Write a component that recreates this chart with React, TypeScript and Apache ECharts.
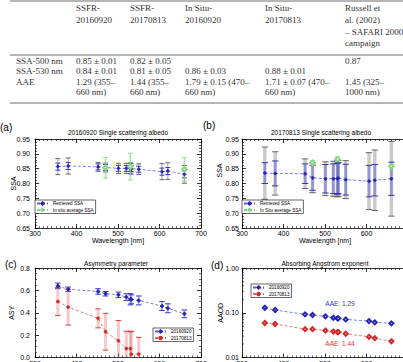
import { useEffect, useRef } from 'react';
import * as echarts from 'echarts';

const SANS = '"Liberation Sans", Arial, sans-serif';
const SERIF = '"Liberation Serif", "Times New Roman", serif';

// ---------- table ----------
const headerColumns: string[][] = [
  ['SSFR-', '20160920'],
  ['SSFR-', '20170813'],
  ['In Situ-', '20160920'],
  ['In Situ-', '20170813'],
  ['Russell et', 'al. (2002)', '– SAFARI 2000', 'campaign'],
];
const rowLabels = ['SSA-500 nm', 'SSA-530 nm', 'AAE', ''];
const cellColumns: string[][] = [
  ['0.85 ± 0.01', '0.84 ± 0.01', '1.29 (355–', '660 nm)'],
  ['0.82 ± 0.05', '0.81 ± 0.05', '1.44 (355–', '660 nm)'],
  ['', '0.86 ± 0.03', '1.79 ± 0.15 (470–', '660 nm)'],
  ['', '0.88 ± 0.01', '1.71 ± 0.07 (470–', '660 nm)'],
  ['0.87', '', '1.45 (325–', '1000 nm)'],
];

// ---------- panel data ----------
const wavelengths = [355, 380, 452, 470, 501, 520, 530, 532, 550, 606, 620, 660];
const insituWavelengths = [470, 530, 660];

// (a) 20160920 single scattering albedo
const ssa0920 = [0.857, 0.859, 0.856, 0.854, 0.851, 0.851, 0.851, 0.85, 0.848, 0.84, 0.842, 0.831];
const ssa0920ErrInner = [0.012, 0.012, 0.01, 0.01, 0.01, 0.01, 0.01, 0.01, 0.01, 0.012, 0.012, 0.012];
const ssa0920ErrOuter = [0.027, 0.027, 0.015, 0.015, 0.017, 0.017, 0.018, 0.018, 0.018, 0.027, 0.028, 0.03];
const insitu0920 = [0.853, 0.857, 0.848];
const insitu0920Err = [0.035, 0.045, 0.04];

// (b) 20170813 single scattering albedo
const ssa0813 = [0.835, 0.834, 0.833, 0.819, 0.816, 0.816, 0.816, 0.818, 0.813, 0.808, 0.811, 0.816];
const ssa0813ErrInner = [0.035, 0.042, 0.033, 0.042, 0.048, 0.05, 0.052, 0.052, 0.052, 0.053, 0.053, 0.056];
const ssa0813ErrOuter = [0.088, 0.073, 0.05, 0.05, 0.057, 0.059, 0.061, 0.061, 0.064, 0.096, 0.102, 0.126];
const insitu0813 = [0.87, 0.882, 0.858];
const insitu0813Err = [0.008, 0.008, 0.006];

// (c) asymmetry parameter
const asy0920 = [0.64, 0.61, 0.59, 0.57, 0.56, 0.54, 0.52, 0.52, 0.51, 0.46, 0.44, 0.39];
const asy0920Err = [0.025, 0.02, 0.025, 0.02, 0.025, 0.03, 0.05, 0.04, 0.04, 0.04, 0.04, 0.035];
const asy0813 = [0.5, 0.45, 0.35, 0.23, 0.15, 0.08, 0.08, 0.03, 0.03, null, null, null];
const asy0813Err = [0.125, 0.16, 0.085, 0.165, 0.18, 0.155, 0.155, 0.2, 0.15, null, null, null];

// (d) absorbing aerosol optical depth
const aaod0920 = [0.129, 0.115, 0.092, 0.089, 0.083, 0.077, 0.075, 0.075, 0.071, 0.065, 0.061, 0.058];
const aaod0813 = [0.059, 0.056, 0.043, 0.043, 0.04, 0.038, 0.037, 0.037, 0.034, 0.029, 0.027, 0.023];
const aaeLabels = ['AAE: 1.29', 'AAE: 1.44'];
const logMinorTicks = [0.02, 0.03, 0.04, 0.05, 0.06, 0.07, 0.08, 0.09, 0.2, 0.3, 0.4, 0.5, 0.6, 0.7, 0.8, 0.9];

const BLUE = '#2424b4';
const BLUE_LINE = '#5c5cd6';
const RED = '#d42a2a';
const RED_LINE = '#e06060';
const GREEN = '#86d886';

const pairs = (xs: number[], ys: (number | null)[]) =>
  xs.map((x, i) => [x, ys[i]]).filter((p) => p[1] != null);

function errorBars(
  gi: number,
  xs: number[],
  ys: (number | null)[],
  errs: (number | null)[],
  barColor: string,
  capColor: string,
  barWidth: number,
  capHalf: number
) {
  const data = xs
    .map((x, i) => (ys[i] == null ? null : [x, (ys[i] as number) - (errs[i] as number), (ys[i] as number) + (errs[i] as number)]))
    .filter(Boolean);
  return {
    type: 'custom',
    xAxisIndex: gi * 2,
    yAxisIndex: gi * 2,
    clip: true,
    silent: true,
    z: 1,
    data,
    encode: { x: 0, y: [1, 2] },
    renderItem: (_p: any, api: any) => {
      const x = api.value(0);
      const t = api.coord([x, api.value(2)]);
      const b = api.coord([x, api.value(1)]);
      return {
        type: 'group',
        children: [
          { type: 'line', shape: { x1: t[0], y1: t[1], x2: b[0], y2: b[1] }, style: { stroke: barColor, lineWidth: barWidth } },
          { type: 'line', shape: { x1: t[0] - capHalf, y1: t[1], x2: t[0] + capHalf, y2: t[1] }, style: { stroke: capColor, lineWidth: 0.9 } },
          { type: 'line', shape: { x1: b[0] - capHalf, y1: b[1], x2: b[0] + capHalf, y2: b[1] }, style: { stroke: capColor, lineWidth: 0.9 } },
        ],
      };
    },
  };
}

const axisLine = { show: true, onZero: false, lineStyle: { color: '#000', width: 0.8 } };
const axisTick = { show: true, inside: true, length: 4, lineStyle: { color: '#000', width: 0.8 } };

function xAxes(gi: number, withName: boolean, showMax: boolean) {
  const common = {
    type: 'value',
    gridIndex: gi,
    min: 300,
    max: 700,
    interval: 100,
    axisLine,
    axisTick,
    minorTick: { show: true, splitNumber: 10, length: 2, lineStyle: { color: '#000', width: 0.6 } },
    splitLine: { show: false },
    minorSplitLine: { show: false },
  };
  return [
    {
      ...common,
      position: 'bottom',
      axisLabel: { fontSize: 7, color: '#000', margin: 2, fontFamily: SANS, showMaxLabel: showMax },
      name: withName ? 'Wavelength [nm]' : '',
      nameLocation: 'middle',
      nameGap: 9,
      nameMoveOverlap: false,
      nameTextStyle: { fontSize: 7, color: '#000', fontFamily: SANS },
    },
    { ...common, position: 'top', axisLabel: { show: false } },
  ];
}

function yAxes(gi: number, cfg: any, name: string, labelMargin: number, nameGap: number, nameShift = 0) {
  const common = {
    gridIndex: gi,
    axisLine,
    axisTick,
    splitLine: { show: false },
    minorSplitLine: { show: false },
    ...cfg,
  };
  return [
    {
      ...common,
      position: 'left',
      axisLabel: { fontSize: 7, color: '#000', margin: labelMargin, fontFamily: SANS, formatter: cfg.fmt },
      name,
      nameLocation: 'middle',
      nameGap,
      nameMoveOverlap: false,
      nameTextStyle: { fontSize: 7, color: '#000', fontFamily: SANS, padding: [0, 0, 0, nameShift] },
    },
    { ...common, position: 'right', axisLabel: { show: false } },
  ];
}

function lineSeries(gi: number, name: string, xs: number[], ys: (number | null)[], color: string, lineColor: string, symbol: string, size: number) {
  return {
    type: 'line',
    name,
    xAxisIndex: gi * 2,
    yAxisIndex: gi * 2,
    data: pairs(xs, ys),
    symbol,
    symbolSize: size,
    z: 3,
    itemStyle: { color, borderColor: color, borderWidth: 0.7 },
    lineStyle: { color: lineColor, width: 0.8, type: [3, 2] },
  };
}

function insituSeries(gi: number, name: string, ys: number[]) {
  return {
    type: 'line',
    name,
    xAxisIndex: gi * 2,
    yAxisIndex: gi * 2,
    data: pairs(insituWavelengths, ys),
    symbol: 'emptyDiamond',
    symbolSize: 4.5,
    z: 4,
    itemStyle: { color: GREEN, borderColor: GREEN, borderWidth: 1 },
    lineStyle: { color: GREEN, width: 0.8, type: [3, 2], opacity: 0 },
  };
}

function legend(left: number, top: number, names: any[]) {
  return {
    show: true,
    orient: 'vertical',
    left,
    top,
    data: names,
    padding: [1, 2, 1, 1],
    itemGap: 1.5,
    itemWidth: 11,
    itemHeight: 3,
    borderColor: '#000',
    borderWidth: 0.6,
    backgroundColor: '#fff',
    selectedMode: false,
    textStyle: { fontSize: 4.6, color: '#000', fontFamily: SANS },
  };
}

function text(x: number, y: number, t: string, font: string, fill = '#000', align = 'left') {
  return {
    type: 'text',
    x,
    y,
    silent: true,
    style: { text: t, font, fill, align, textAlign: align, verticalAlign: 'middle', textVerticalAlign: 'middle' },
  };
}

function buildOption() {
  const graphics: any[] = [];
  // table rules
  [1, 55, 103].forEach((y) =>
    graphics.push({ type: 'line', silent: true, shape: { x1: 10, y1: y, x2: 403, y2: y }, style: { stroke: '#6a6a6a', lineWidth: 1 } })
  );
  const headerX = [76, 130, 185, 265, 345];
  const headerY = [7.5, 19.5, 31.5, 43];
  const rowY = [61, 71.3, 81.5, 92];
  const tFont = '9px ' + SERIF;
  headerColumns.forEach((col, c) => col.forEach((t, r) => graphics.push(text(headerX[c], headerY[r], t, tFont, '#333'))));
  rowLabels.forEach((t, r) => t && graphics.push(text(16, rowY[r], t, tFont, '#333')));
  cellColumns.forEach((col, c) => col.forEach((t, r) => t && graphics.push(text(headerX[c], rowY[r], t, tFont, '#333'))));

  // panel tags and titles
  const tagFont = '10px ' + SANS;
  graphics.push(text(0, 127, '(a)', tagFont));
  graphics.push(text(203, 125.5, '(b)', tagFont));
  graphics.push(text(5, 264.5, '(c)', tagFont));
  graphics.push(text(211, 265, '(d)', tagFont));
  const titleFont = '6.5px ' + SANS;
  graphics.push(text(118, 132, '20160920 Single scattering albedo', titleFont, '#000', 'center'));
  graphics.push(text(321, 132, '20170813 Single scattering albedo', titleFont, '#000', 'center'));
  graphics.push(text(116, 263, 'Asymmetry parameter', titleFont, '#000', 'center'));
  graphics.push(text(325, 263, 'Absorbing Angstrom exponent', titleFont, '#000', 'center'));
  graphics.push(text(340, 303, aaeLabels[0], '6.5px ' + SANS, '#3434d8', 'center'));
  graphics.push(text(340, 343, aaeLabels[1], '6.5px ' + SANS, '#e03434', 'center'));

  const ssaCfg = { type: 'value', min: 0.65, max: 0.95, interval: 0.05, fmt: (v: number) => v.toFixed(2), minorTick: { show: true, splitNumber: 5, length: 2, lineStyle: { color: '#000', width: 0.6 } } };
  const asyCfg = { type: 'value', min: 0, max: 0.8, interval: 0.2, fmt: (v: number) => v.toFixed(1), minorTick: { show: true, splitNumber: 4, length: 2, lineStyle: { color: '#000', width: 0.6 } } };
  const aaodCfg = { type: 'log', logBase: 10, min: 0.01, max: 1, fmt: (v: number) => v.toFixed(2), minorTick: { show: false } };

  const series: any[] = [
    // (a)
    errorBars(0, wavelengths, ssa0920, ssa0920ErrOuter, 'rgba(120,120,120,0.55)', '#555', 1.2, 2.5),
    errorBars(0, wavelengths, ssa0920, ssa0920ErrInner, 'rgba(60,60,200,0.55)', BLUE, 1.2, 2.5),
    errorBars(0, insituWavelengths, insitu0920, insitu0920Err, 'rgba(130,215,130,0.7)', GREEN, 1.6, 2.5),
    lineSeries(0, 'Retrieved SSA', wavelengths, ssa0920, BLUE, BLUE_LINE, 'diamond', 3.5),
    insituSeries(0, 'In situ average SSA', insitu0920),
    // (b)
    errorBars(1, wavelengths, ssa0813, ssa0813ErrOuter, 'rgba(150,150,150,0.5)', '#555', 3.5, 3.2),
    errorBars(1, wavelengths, ssa0813, ssa0813ErrInner, 'rgba(80,80,215,0.45)', BLUE, 2.5, 3.2),
    errorBars(1, insituWavelengths, insitu0813, insitu0813Err, 'rgba(130,215,130,0.7)', GREEN, 2, 2.5),
    lineSeries(1, 'Retrieved SSA', wavelengths, ssa0813, BLUE, BLUE_LINE, 'diamond', 3.5),
    insituSeries(1, 'In Situ average SSA', insitu0813),
    // (c)
    errorBars(2, wavelengths, asy0920, asy0920Err, 'rgba(80,80,215,0.45)', BLUE, 2, 2.8),
    errorBars(2, wavelengths, asy0813, asy0813Err, 'rgba(230,120,120,0.4)', RED, 3, 2.8),
    lineSeries(2, '20160920', wavelengths, asy0920, BLUE, BLUE_LINE, 'diamond', 4),
    lineSeries(2, '20170813', wavelengths, asy0813, RED, RED_LINE, 'circle', 3),
    // (d)
    lineSeries(3, '20160920', wavelengths, aaod0920, BLUE, BLUE_LINE, 'emptyDiamond', 4),
    lineSeries(3, '20170813', wavelengths, aaod0813, RED, RED_LINE, 'emptyDiamond', 4),
    {
      type: 'custom',
      xAxisIndex: 6,
      yAxisIndex: 6,
      silent: true,
      data: logMinorTicks.map((v) => [300, v]),
      renderItem: (_p: any, api: any) => {
        const c = api.coord([api.value(0), api.value(1)]);
        return { type: 'line', shape: { x1: c[0], y1: c[1], x2: c[0] + 2, y2: c[1] }, style: { stroke: '#000', lineWidth: 0.6 } };
      },
    },
  ];

  return {
    animation: false,
    backgroundColor: '#fff',
    textStyle: { fontFamily: SANS },
    grid: [
      { left: 35, top: 139, width: 166, height: 89, outerBoundsMode: 'none' },
      { left: 242, top: 139, width: 166, height: 89, outerBoundsMode: 'none' },
      { left: 35, top: 268, width: 166, height: 89.5, outerBoundsMode: 'none' },
      { left: 242, top: 268, width: 166, height: 89.5, outerBoundsMode: 'none' },
    ],
    xAxis: [...xAxes(0, true, true), ...xAxes(1, true, false), ...xAxes(2, false, true), ...xAxes(3, false, false)],
    yAxis: [
      ...yAxes(0, ssaCfg, 'SSA', 5, 18),
      ...yAxes(1, ssaCfg, 'SSA', 3, 19, 26),
      ...yAxes(2, asyCfg, 'ASY', 5, 20),
      ...yAxes(3, aaodCfg, 'AAOD', 3, 18),
    ],
    legend: [
      legend(35, 200, [{ name: 'Retrieved SSA' }, { name: 'In situ average SSA', lineStyle: { opacity: 1 } }]),
      legend(242, 200, [{ name: 'Retrieved SSA' }, { name: 'In Situ average SSA', lineStyle: { opacity: 1 } }]),
      legend(153, 328, ['20160920', '20170813']),
      legend(251, 284, ['20160920', '20170813']),
    ],
    graphic: graphics,
    series,
  };
}

export default function App() {
  const ref = useRef<HTMLDivElement>(null);
  useEffect(() => {
    const chart = echarts.init(ref.current!, null, { renderer: 'svg' });
    chart.setOption(buildOption() as any);
    return () => chart.dispose();
  }, []);
  return <div ref={ref} style={{ position: 'fixed', left: 0, top: 0, width: 403, height: 362, background: '#fff' }} />;
}
